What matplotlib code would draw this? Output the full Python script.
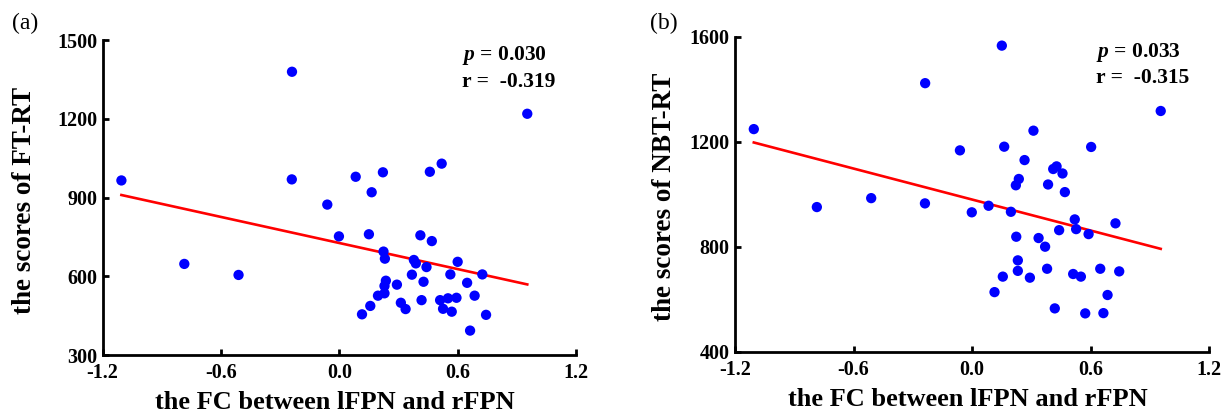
import numpy as np
import matplotlib
matplotlib.use("Agg")
import matplotlib.pyplot as plt

plt.rcParams["font.family"] = ["Liberation Serif", "DejaVu Serif"]
plt.rcParams["mathtext.fontset"] = "custom"
plt.rcParams["mathtext.bfit"] = "Liberation Serif:italic:bold"
plt.rcParams["mathtext.rm"] = "Liberation Serif:bold"

# Functional connectivity between lFPN and rFPN vs. FT-RT scores
fc_a = [-1.105, -0.240, 0.953, -0.241, -0.786, -0.511, 0.083, 0.221, 0.164, -0.061,
        0.459, 0.519, -0.002, 0.150, 0.411, 0.469, 0.224, 0.231, 0.378, 0.388,
        0.442, 0.600, 0.368, 0.563, 0.725, 0.236, 0.229, 0.292, 0.427, 0.648,
        0.229, 0.196, 0.686, 0.312, 0.336, 0.417, 0.511, 0.551, 0.594, 0.526,
        0.570, 0.157, 0.115, 0.744, 0.663]
ft_rt = [965, 1379, 1219, 969, 647, 605, 979, 996, 920, 873,
         998, 1029, 752, 760, 756, 734, 694, 667, 662, 649,
         635, 655, 606, 607, 607, 583, 563, 568, 579, 575,
         535, 526, 526, 499, 475, 509, 509, 516, 518, 476,
         465, 487, 455, 453, 393]

# Functional connectivity between lFPN and rFPN vs. NBT-RT scores
fc_b = [-1.105, 0.150, -0.238, 0.954, 0.310, 0.162, 0.602, -0.062, 0.265, 0.427,
        0.410, 0.457, 0.236, 0.221, 0.384, 0.469, -0.786, -0.511, -0.239, -0.002,
        0.083, 0.196, 0.519, 0.526, 0.440, 0.725, 0.589, 0.223, 0.336, 0.369,
        0.231, 0.231, 0.379, 0.648, 0.744, 0.511, 0.550, 0.155, 0.292, 0.113,
        0.685, 0.418, 0.572, 0.664]
nbt_rt = [1248, 1566, 1423, 1317, 1242, 1181, 1180, 1167, 1130, 1106,
          1096, 1079, 1058, 1034, 1037, 1008, 951, 985, 965, 931,
          956, 933, 904, 867, 863, 889, 848, 838, 833, 800,
          748, 708, 716, 716, 706, 696, 686, 686, 682, 627,
          616, 565, 546, 547]

x_ticks = [-1.2, -0.6, 0.0, 0.6, 1.2]
y_ticks_a = [300, 600, 900, 1200, 1500]
y_ticks_b = [400, 800, 1200, 1600]

panels = [
    dict(rect=[0.0834, 0.1507, 0.3845, 0.7536], x=fc_a, y=ft_rt, yticks=y_ticks_a,
         ylabel="the scores of FT-RT", p="0.030", r="-0.319", tag="(a)",
         ylab_x=-0.139, ann_x=0.760, tag_xy=(0.010, 0.918)),
    dict(rect=[0.5971, 0.1586, 0.3853, 0.7536], x=fc_b, y=nbt_rt, yticks=y_ticks_b,
         ylabel="the scores of NBT-RT", p="0.033", r="-0.315", tag="(b)",
         ylab_x=-0.123, ann_x=0.761, tag_xy=(0.528, 0.918)),
]

fig = plt.figure(figsize=(12.31, 4.18), dpi=100)

for pnl in panels:
    ax = fig.add_axes(pnl["rect"])
    x = np.asarray(pnl["x"], dtype=float)
    y = np.asarray(pnl["y"], dtype=float)

    ax.scatter(x, y, s=55, color="#0000ff", edgecolors="none", zorder=3)

    slope, intercept = np.polyfit(x, y, 1)
    xs = np.array([x.min(), x.max()])
    ax.plot(xs, slope * xs + intercept, color="#ff0000", lw=1.9, zorder=2)

    ax.set_xlim(x_ticks[0], x_ticks[-1])
    ax.set_ylim(pnl["yticks"][0], pnl["yticks"][-1])
    ax.set_xticks(x_ticks)
    ax.set_xticklabels([f"{v:.1f}" for v in x_ticks])
    ax.set_yticks(pnl["yticks"])

    for side in ("top", "right"):
        ax.spines[side].set_visible(False)
    for side in ("left", "bottom"):
        ax.spines[side].set_linewidth(2.0)
    ax.tick_params(direction="in", length=4, width=2.0, labelsize=14.5)
    ax.tick_params(axis="x", pad=6)
    ax.tick_params(axis="y", pad=4)
    for lab in ax.get_xticklabels() + ax.get_yticklabels():
        lab.set_fontweight("bold")

    ax.set_xlabel("the FC between lFPN and rFPN", fontsize=19, fontweight="bold")
    ax.xaxis.set_label_coords(0.49, -0.115)
    ax.set_ylabel(pnl["ylabel"], fontsize=19.5, fontweight="bold")
    ax.yaxis.set_label_coords(pnl["ylab_x"], 0.492)

    ax.text(pnl["ann_x"], 0.937, r"$\mathbfit{p}$ = " + pnl["p"], transform=ax.transAxes,
            fontsize=15.5, fontweight="bold", ha="left", va="baseline")
    ax.text(pnl["ann_x"], 0.852, "r =  " + pnl["r"], transform=ax.transAxes,
            fontsize=15.5, fontweight="bold", ha="left", va="baseline")

    fig.text(pnl["tag_xy"][0], pnl["tag_xy"][1], pnl["tag"], fontsize=17,
             ha="left", va="bottom")

fig.savefig("out.png", dpi=100)
